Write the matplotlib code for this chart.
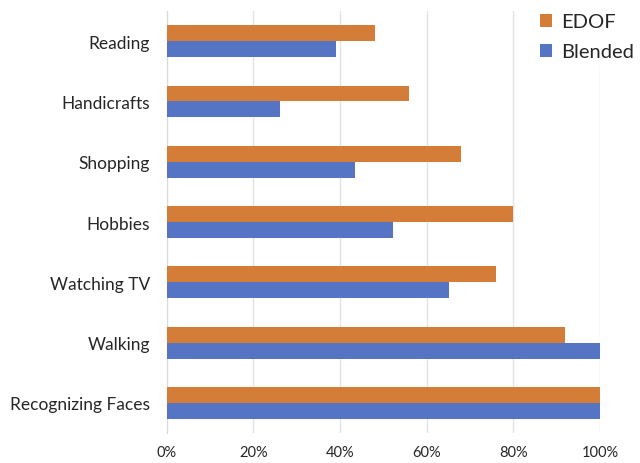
import matplotlib.pyplot as plt
import numpy as np
from matplotlib.ticker import PercentFormatter

categories = ["Recognizing Faces", "Walking", "Watching TV", "Hobbies",
              "Shopping", "Handicrafts", "Reading"]
edof = [100, 92, 76, 80, 68, 56, 48]
blended = [100, 100, 65.2, 52.2, 43.5, 26.1, 39.1]

plt.rcParams["font.family"] = ["Lato", "DejaVu Sans"]

fig = plt.figure(figsize=(6.4, 4.64), dpi=100)
ax = fig.add_axes([0.2605, 0.0647, 0.9375 - 0.2605, 0.974 - 0.0647])

y = np.arange(len(categories))
h = 0.265
ax.barh(y - h / 2, blended, height=h, color="#5574C3", label="Blended", zorder=3)
ax.barh(y + h / 2, edof, height=h, color="#D47D38", label="EDOF", zorder=3)

ax.set_xlim(0, 100)
ax.set_ylim(-0.5, len(categories) - 0.5)
ax.set_xticks(np.arange(0, 101, 20))
ax.xaxis.set_major_formatter(PercentFormatter(decimals=0))
ax.set_yticks(y)
ax.set_yticklabels(categories, fontsize=12.5, color="#262626")
ax.tick_params(axis="x", labelsize=10.5, colors="#262626", length=0, pad=9)
ax.tick_params(axis="y", length=0, pad=12)

ax.grid(axis="x", color="#e3e3e3", linewidth=1, zorder=0)
for s in ["top", "right", "bottom"]:
    ax.spines[s].set_visible(False)
ax.spines["left"].set_color("#d9d9d9")

handles, labels = ax.get_legend_handles_labels()
leg = fig.legend(handles[::-1], labels[::-1], loc="upper left",
                 bbox_to_anchor=(0.838, 0.978), frameon=True, fontsize=14.5,
                 handlelength=0.6, handleheight=0.6, handletextpad=0.45,
                 labelspacing=0.65, borderaxespad=0, borderpad=0.2)
leg.get_frame().set_edgecolor("white")
leg.get_frame().set_facecolor("white")
leg.get_frame().set_alpha(1)
for t in leg.get_texts():
    t.set_color("#262626")

fig.savefig("out.png", dpi=100)
